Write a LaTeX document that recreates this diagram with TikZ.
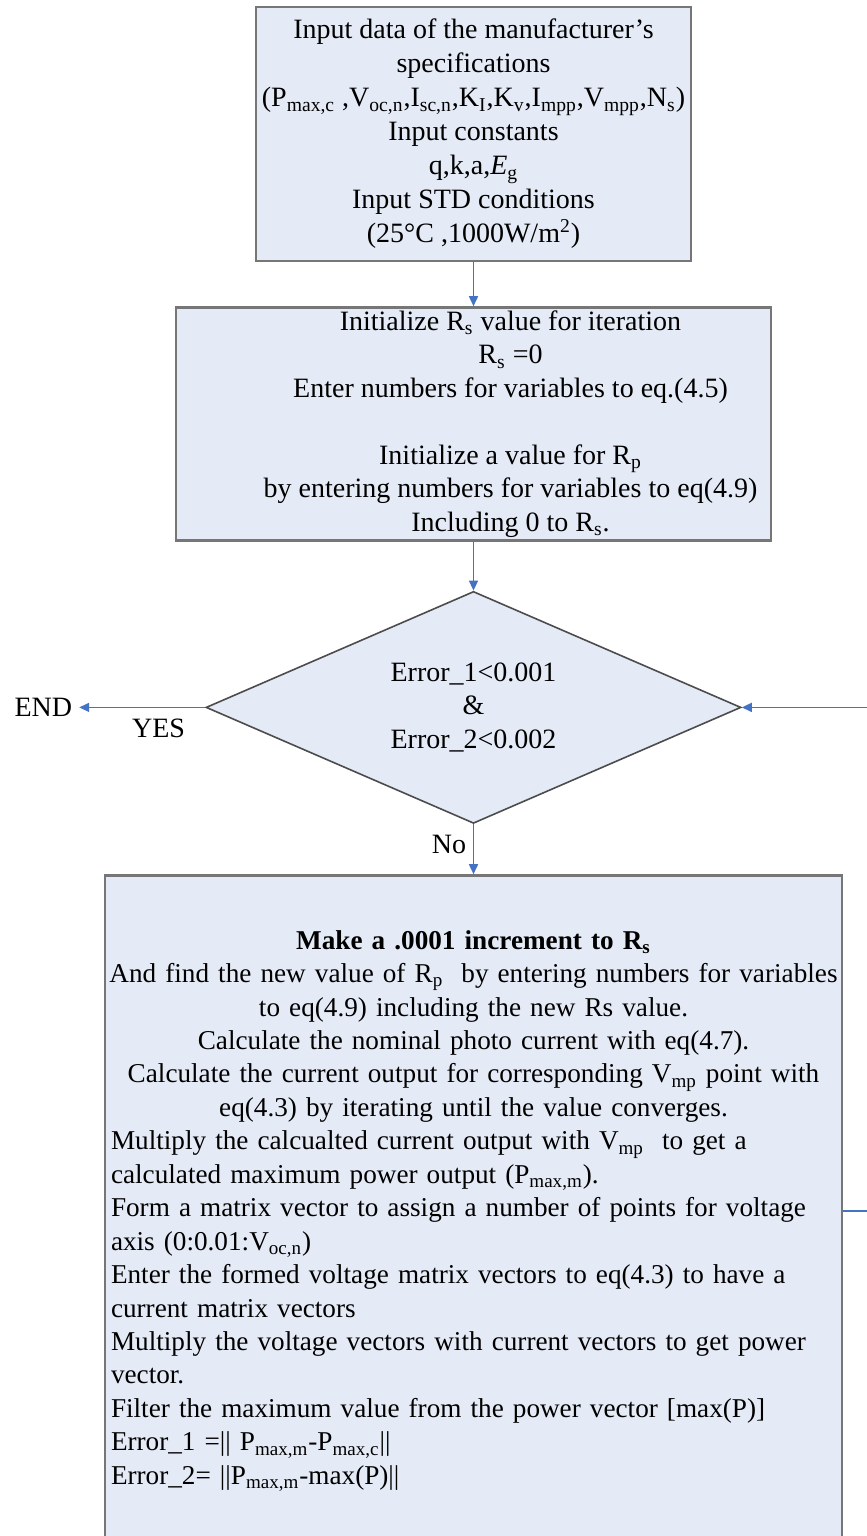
\documentclass[tikz,border=0pt]{standalone}
\usepackage{fontspec}
\setmainfont{Liberation Serif}
\usetikzlibrary{arrows.meta, positioning, shapes.geometric}
\definecolor{boxfill}{RGB}{229,235,246}
\definecolor{boxline}{RGB}{118,118,118}
\definecolor{flowcolor}{RGB}{68,114,196}

\begin{document}
\begin{tikzpicture}[
    x=0.5pt, y=-0.5pt,
    >={Triangle[length=5pt, width=4.5pt]},
    font=\fontsize{14pt}{16.75pt}\selectfont,
    proc/.style={draw=boxline, line width=1.2pt, fill=boxfill, inner sep=3pt},
    dec/.style={diamond, aspect=2.3, draw=black!70, line width=0.8pt, fill=boxfill, inner sep=0pt, align=center},
    flow/.style={->, flowcolor, line width=0.8pt},
    tag/.style={text=black},
]
    \clip (0,0) rectangle (867,1536);
    \node[proc, minimum width=216.5pt, minimum height=127pt, align=center, font=\fontsize{14pt}{17pt}\selectfont] (input) at (473.5,134) {Input data of the manufacturer’s\\ specifications\\ (P\textsubscript{max,c} ,V\textsubscript{oc,n},I\textsubscript{sc,n},K\textsubscript{I},K\textsubscript{v},I\textsubscript{mpp},V\textsubscript{mpp},N\textsubscript{s})\\ Input constants\\ q,k,a,\textit{E}\textsubscript{g}\\ Input STD conditions\\ (25°C ,1000W/m\textsuperscript{2})};
    \node[proc, below=22pt of input, minimum width=297.5pt, minimum height=116.5pt] (init) {};
    \node[align=center] (initText) at ([xshift=18.5pt]init.center) {Initialize R\textsubscript{s} value for iteration\\ R\textsubscript{s} =0\\ Enter numbers for variables to eq.(4.5)\\[16.75pt] Initialize a value for R\textsubscript{p}\\ by entering numbers for variables to eq(4.9)\\ Including 0 to R\textsubscript{s}.};
    \node[dec, below=24.5pt of init, minimum width=267.5pt, minimum height=116pt] (err) {Error\_1<0.001\\ \&\\ Error\_2<0.002};
    \node[proc, below=25pt of err, minimum width=368.5pt, minimum height=335.5pt, text width=362.5pt, font=\fontsize{13.6pt}{16.72pt}\selectfont] (step) {\centerline{\textbf{Make a .0001 increment to R\textsubscript{s}}}
    \centerline{And find the new value of R\textsubscript{p}\ \ by entering numbers for variables}
    \centerline{to eq(4.9) including the new Rs value.}
    \centerline{Calculate the nominal photo current with eq(4.7).}
    \centerline{Calculate the current output for corresponding V\textsubscript{mp} point with}
    \centerline{eq(4.3) by iterating until the value converges.}
    {\raggedright Multiply the calcualted current output with V\textsubscript{mp}\ \ to get a\\ calculated maximum power output (P\textsubscript{max,m}).\\ Form a matrix vector to assign a number of points for voltage\\ axis (0:0.01:V\textsubscript{oc,n})\\ Enter the formed voltage matrix vectors to eq(4.3) to have a\\ current matrix vectors\\ Multiply the voltage vectors with current vectors to get power\\ vector.\\ Filter the maximum value from the power vector [max(P)]\\ Error\_1 =|| P\textsubscript{max,m}-P\textsubscript{max,c}||\\ Error\_2= ||P\textsubscript{max,m}-max(P)||\par}};
    \node[left=63pt of err] (end) {END};
    \draw[flow] (input) -- (init);
    \draw[flow] (init) -- (err);
    \draw[flow] (err) -- node[tag, left, pos=0.4] {No} (step);
    \draw[flow] (err) -- node[tag, below=2pt, pos=0.37] {YES} (end);
    \draw[flow] (step.east) -- ++(20pt,0) |- (err.east);
\end{tikzpicture}
\end{document}
